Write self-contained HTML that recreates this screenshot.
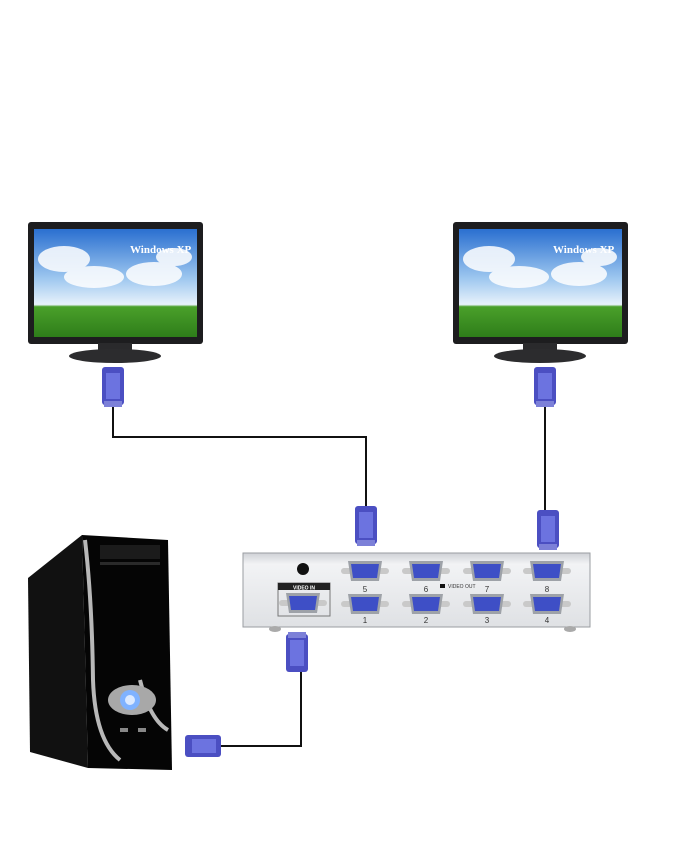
<!DOCTYPE html>
<html><head><style>body{margin:0;background:#fff}svg{display:block}</style></head><body>
<svg width="680" height="850" viewBox="0 0 680 850" xmlns="http://www.w3.org/2000/svg" font-family="Liberation Sans, sans-serif">
<defs>
<linearGradient id="sky" x1="0" y1="0" x2="0" y2="1"><stop offset="0" stop-color="#2a6fd0"/><stop offset="0.45" stop-color="#9cc6ef"/><stop offset="0.7" stop-color="#e8f2fb"/><stop offset="0.72" stop-color="#4aa02a"/><stop offset="1" stop-color="#2e7d1a"/></linearGradient>
<linearGradient id="box" x1="0" y1="0" x2="0" y2="1"><stop offset="0" stop-color="#cfd2d6"/><stop offset="0.15" stop-color="#f2f3f5"/><stop offset="1" stop-color="#dfe1e4"/></linearGradient>
<g id="plugv"><rect x="-11" y="0" width="22" height="38" rx="3" fill="#4b4fc2"/><rect x="-7" y="6" width="14" height="26" fill="#6c73e0"/><rect x="-9" y="34" width="18" height="6" fill="#7c80d8"/></g>
<g id="port"><rect x="-24" y="-3" width="48" height="6" rx="3" fill="#c9c9c9"/><path d="M-17 -10 H17 L14 10 H-14 Z" fill="#9ea2a8"/><path d="M-14 -7 H14 L12 7 H-12 Z" fill="#3e4fc6"/></g>
<g id="clouds" fill="#fff" opacity="0.85"><ellipse cx="30" cy="30" rx="26" ry="13"/><ellipse cx="60" cy="48" rx="30" ry="11"/><ellipse cx="120" cy="45" rx="28" ry="12"/><ellipse cx="140" cy="28" rx="18" ry="9"/></g>
</defs>
<g>
<rect x="28" y="222" width="175" height="122" rx="3" fill="#1d1d1f"/>
<rect x="34" y="229" width="163" height="108" fill="url(#sky)"/>
<use href="#clouds" x="34" y="229"/>
<text x="130" y="253" font-size="11" font-weight="bold" fill="#fff" font-family="Liberation Serif, serif">Windows XP</text>
<rect x="98" y="343" width="34" height="10" fill="#2a2a2c"/>
<ellipse cx="115" cy="356" rx="46" ry="7" fill="#2c2c2e"/>
</g>
<g>
<rect x="453" y="222" width="175" height="122" rx="3" fill="#1d1d1f"/>
<rect x="459" y="229" width="163" height="108" fill="url(#sky)"/>
<use href="#clouds" x="459" y="229"/>
<text x="553" y="253" font-size="11" font-weight="bold" fill="#fff" font-family="Liberation Serif, serif">Windows XP</text>
<rect x="523" y="343" width="34" height="10" fill="#2a2a2c"/>
<ellipse cx="540" cy="356" rx="46" ry="7" fill="#2c2c2e"/>
</g>
<g fill="none" stroke="#111" stroke-width="2">
<path d="M113 405 V437 H366 V508"/>
<path d="M545 405 V512"/>
<path d="M220 746 H301 V670"/>
</g>
<use href="#plugv" x="113" y="367"/>
<use href="#plugv" x="545" y="367"/>
<use href="#plugv" x="366" y="506"/>
<use href="#plugv" x="548" y="510"/>
<use href="#plugv" transform="translate(297,672) scale(1,-1)"/>
<g><rect x="185" y="735" width="36" height="22" rx="3" fill="#4b4fc2"/><rect x="192" y="739" width="24" height="14" fill="#6c73e0"/></g>
<rect x="243" y="553" width="347" height="74" fill="url(#box)" stroke="#9a9da2"/>
<circle cx="303" cy="569" r="6" fill="#111"/>
<rect x="278" y="583" width="52" height="33" fill="none" stroke="#777"/>
<rect x="278" y="583" width="52" height="7" fill="#222"/>
<text x="304" y="589.5" font-size="5" fill="#fff" text-anchor="middle" font-weight="bold">VIDEO IN</text>
<use href="#port" x="303" y="603"/>
<use href="#port" x="365" y="571"/><use href="#port" x="426" y="571"/><use href="#port" x="487" y="571"/><use href="#port" x="547" y="571"/>
<use href="#port" x="365" y="604"/><use href="#port" x="426" y="604"/><use href="#port" x="487" y="604"/><use href="#port" x="547" y="604"/>
<g font-size="8" fill="#333" text-anchor="middle"><text x="365" y="592">5</text><text x="426" y="592">6</text><text x="487" y="592">7</text><text x="547" y="592">8</text>
<text x="365" y="623">1</text><text x="426" y="623">2</text><text x="487" y="623">3</text><text x="547" y="623">4</text></g>
<rect x="440" y="584" width="5" height="4" fill="#111"/><text x="448" y="588" font-size="5" fill="#333">VIDEO OUT</text>
<ellipse cx="275" cy="629" rx="6" ry="3" fill="#aaa"/><ellipse cx="570" cy="629" rx="6" ry="3" fill="#aaa"/>
<path d="M28 578 L82 535 L88 768 L30 752 Z" fill="#111"/>
<path d="M82 535 L168 540 L172 770 L88 768 Z" fill="#050505"/>
<path d="M85 540 Q92 600 93 680 Q95 740 120 760" fill="none" stroke="#b8b8b8" stroke-width="4"/>
<path d="M140 680 Q150 720 168 730" fill="none" stroke="#b8b8b8" stroke-width="4"/>
<rect x="100" y="545" width="60" height="14" fill="#1b1b1b"/>
<rect x="100" y="562" width="60" height="3" fill="#2a2a2a"/>
<ellipse cx="132" cy="700" rx="24" ry="15" fill="#a8a8a8"/>
<circle cx="130" cy="700" r="10" fill="#7fb2ff"/><circle cx="130" cy="700" r="5" fill="#dbe9ff"/>
<rect x="120" y="728" width="8" height="4" fill="#888"/><rect x="138" y="728" width="8" height="4" fill="#888"/>
</svg>
</body></html>
